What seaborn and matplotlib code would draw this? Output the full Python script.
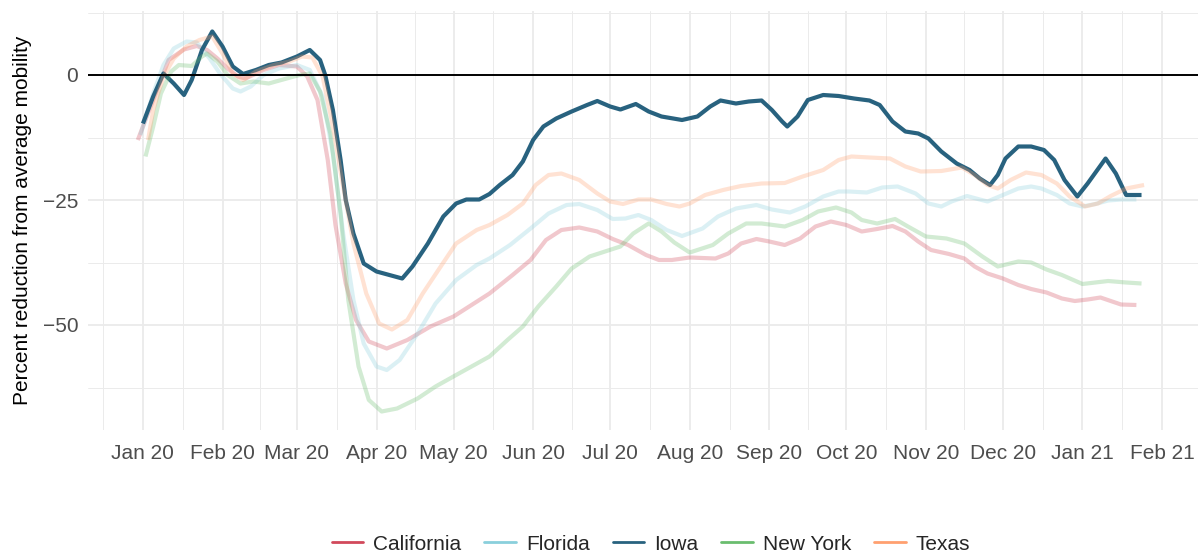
import pandas as pd
import numpy as np
import matplotlib
matplotlib.use("Agg")
import matplotlib.pyplot as plt
import matplotlib.dates as mdates
from matplotlib.lines import Line2D
import seaborn as sns

### DATA ###
# days since 2020-01-01 and % change from average mobility
ca_days = [-2, 3, 7, 10, 16, 21, 25, 29, 33, 37, 40, 47, 53, 60, 64, 68, 72, 75, 79, 83, 88, 95, 103, 112,
           121, 128, 135, 144, 151, 157, 163, 170, 177, 183, 189, 196, 201, 206, 213, 223, 228, 233, 239, 244,
           250, 256, 262, 268, 274, 280, 286, 292, 297, 302, 307, 314, 320, 324, 329, 335, 341, 346, 352, 358,
           363, 368, 373, 377, 381, 387]
ca_vals = [-13, -6.3, -1, 3, 5.1, 5.8, 5, 3.3, 1.3, -0.3, -0.7, 1, 2, 1.7, -0.3, -5, -17, -30, -41.7, -49,
           -53.3, -54.7, -53, -50.3, -48.3, -46, -43.7, -40, -37, -33, -31, -30.5, -31.3, -32.8, -34, -36, -37,
           -37, -36.5, -36.7, -35.7, -33.7, -32.8, -33.3, -34, -32.7, -30.3, -29.3, -30, -31.3, -30.8, -30.2,
           -31.3, -33.3, -35, -35.8, -36.7, -38.3, -39.7, -40.7, -42, -42.8, -43.5, -44.7, -45.2, -44.9, -44.5,
           -45.2, -45.9, -46]

fl_days = [-1, 4, 8, 12, 17, 21, 26, 30, 35, 38, 42, 47, 53, 60, 65, 70, 74, 78, 82, 86, 91, 95, 100, 107,
           114, 122, 130, 135, 143, 151, 158, 165, 170, 177, 183, 188, 193, 198, 204, 210, 218, 224, 231, 239,
           245, 252, 258, 265, 271, 275, 282, 288, 294, 301, 306, 311, 315, 321, 326, 329, 335, 341, 346, 350,
           356, 361, 366, 371, 376, 381, 387]
fl_vals = [-12, -3.7, 2, 5.3, 6.7, 6.5, 3.3, 0.3, -2.7, -3.3, -2.3, 0, 1.3, 2, 1, -4.3, -15.7, -31.7, -45,
           -53.7, -58.3, -59, -57, -51.7, -45.7, -41, -38, -36.7, -34, -30.7, -27.7, -26, -25.8, -27, -28.8,
           -28.7, -28, -29, -31, -32.2, -30.7, -28.3, -26.7, -26, -26.9, -27.5, -26.3, -24.3, -23.3, -23.3,
           -23.5, -22.5, -22.3, -23.7, -25.7, -26.3, -25.3, -24.2, -24.9, -25.3, -24, -22.7, -22.3, -22.7,
           -24, -25.7, -26.3, -25.8, -25.1, -24.9, -24.9]

ia_days = [0, 4, 8, 12, 16, 19, 23, 27, 31, 35, 39, 44, 49, 54, 60, 65, 69, 71, 74, 77, 79, 82, 86, 91, 96,
           101, 105, 111, 117, 122, 126, 131, 135, 139, 144, 148, 152, 156, 161, 167, 173, 177, 182, 186, 192,
           197, 202, 210, 216, 221, 225, 231, 236, 241, 245, 249, 251, 255, 259, 265, 271, 277, 283, 287, 292,
           297, 302, 306, 311, 317, 322, 326, 330, 333, 336, 341, 346, 351, 355, 359, 364, 368, 375, 379, 383,
           389]
ia_vals = [-9.7, -4.3, 0.3, -1.7, -4, -1, 5, 8.7, 5.7, 1.7, 0.2, 1, 2, 2.5, 3.7, 5, 3, 0, -7, -17, -25,
           -31.7, -37.7, -39.3, -40, -40.7, -38.3, -33.7, -28.3, -25.7, -24.9, -24.9, -23.8, -22, -20, -17.3,
           -13, -10.3, -8.7, -7.3, -6, -5.2, -6.3, -6.9, -5.8, -7.3, -8.3, -9, -8.3, -6.3, -5.1, -5.7, -5.3,
           -5.1, -7, -9.3, -10.3, -8.3, -5, -4, -4.2, -4.7, -5.1, -6, -9.3, -11.3, -11.7, -12.7, -15.3, -17.7,
           -19, -20.7, -22, -20, -16.7, -14.3, -14.3, -15, -17, -21, -24.3, -21.7, -16.7, -19.7, -24, -24]

ny_days = [1, 4, 7, 11, 14, 19, 23, 25, 29, 33, 38, 43, 49, 56, 61, 65, 69, 73, 77, 80, 84, 88, 93, 99, 107,
           114, 122, 128, 135, 142, 148, 154, 161, 167, 174, 180, 186, 191, 197, 202, 207, 213, 222, 228, 235,
           241, 250, 257, 263, 270, 276, 280, 286, 293, 298, 305, 313, 320, 327, 333, 341, 346, 352, 358, 366,
           371, 376, 383, 389]
ny_vals = [-16.3, -10.3, -3.7, 0.7, 2, 1.8, 3.7, 4.3, 2.7, 0, -1.7, -1.3, -1.7, -0.7, 0, 0.3, -3.3, -11.7,
           -27.7, -45, -58.3, -65, -67.3, -66.7, -64.7, -62.3, -60, -58.3, -56.3, -53, -50.3, -46.3, -42.3,
           -38.7, -36.3, -35.3, -34.3, -31.7, -29.7, -31.3, -33.5, -35.5, -34, -31.7, -29.7, -29.7, -30.3, -29,
           -27.3, -26.5, -27.5, -29, -29.7, -28.8, -30.3, -32.3, -32.7, -33.7, -36.3, -38.3, -37.3, -37.5,
           -38.9, -40, -41.8, -41.5, -41.2, -41.5, -41.7]

tx_days = [2, 4, 8, 12, 17, 22, 27, 31, 35, 39, 44, 51, 57, 62, 66, 70, 74, 78, 82, 87, 92, 97, 103, 109,
           116, 122, 130, 135, 142, 148, 153, 158, 163, 170, 177, 182, 187, 193, 198, 204, 209, 213, 219, 226,
           233, 241, 250, 257, 265, 271, 276, 283, 291, 297, 303, 311, 319, 324, 329, 333, 338, 344, 350, 356,
           361, 367, 372, 377, 383, 390]
tx_vals = [-13, -7, -0.3, 3.3, 5.7, 7, 7.7, 4.3, 0.3, -1, 0.7, 2, 2.7, 3.7, 3.5, -0.3, -10.3, -22.3, -33.7,
           -43.7, -49.7, -50.9, -49, -43.7, -38.3, -33.7, -31, -30, -28, -25.7, -22, -20, -19.7, -21, -23.7,
           -25.3, -25.8, -24.9, -24.9, -25.8, -26.3, -25.7, -24, -23, -22.2, -21.7, -21.6, -20.3, -19, -17,
           -16.3, -16.5, -16.7, -18.3, -19.3, -19.2, -18.5, -20, -22, -22.7, -21, -19.5, -20, -21.7, -24.3,
           -26.3, -25.7, -24.2, -22.7, -22]

states = ["California", "Florida", "Iowa", "New York", "Texas"]
state_colors = ["#D1495B", "#8ACFDC", "#28627F", "#6ABD6F", "#FFA070"]

### BUILD LONG DATAFRAME ###
start = pd.Timestamp("2020-01-01")
series = [ca_days, fl_days, ia_days, ny_days, tx_days]
values = [ca_vals, fl_vals, ia_vals, ny_vals, tx_vals]
frames = []
for state, d, v in zip(states, series, values):
    frames.append(pd.DataFrame({"date": start + pd.to_timedelta(d, unit="D"),
                                "state": state, "pct": v}))
df = pd.concat(frames, ignore_index=True)

### PLOT ###
sns.set_theme(style="white")
plt.rcParams["font.family"] = ["Liberation Sans", "DejaVu Sans"]

W, H = 1198, 556
fig = plt.figure(figsize=(W / 100, H / 100), dpi=100)
ax = fig.add_axes([88 / W, 1 - 430 / H, 1110 / W, 419 / H])

palette = dict(zip(states, state_colors))
sns.lineplot(data=df, x="date", y="pct", hue="state", hue_order=states, palette=palette,
             estimator=None, linewidth=3.0, legend=False, ax=ax)
for line, state in zip(ax.lines[:len(states)], states):
    line.set_solid_capstyle("butt")
    line.set_solid_joinstyle("round")
    if state != "Iowa":
        line.set_alpha(0.3)

ax.axhline(0, color="black", linewidth=1.4, zorder=3)

# axes limits (ggplot-like 5% expansion)
ax.set_xlim(start - pd.Timedelta(days=21.4), start + pd.Timedelta(days=410.3))
ax.set_ylim(-71.0, 12.8)

# ticks and grid
months = pd.date_range("2019-12-01", "2021-03-01", freq="MS")
mids = [months[i] + (months[i + 1] - months[i]) / 2 for i in range(len(months) - 1)]
major = pd.date_range("2020-01-01", "2021-02-01", freq="MS")
ax.set_xticks(major)
ax.set_xticks(mids, minor=True)
ax.xaxis.set_major_formatter(mdates.DateFormatter("%b %y"))
ax.set_yticks([-50, -25, 0])
ax.set_yticks([-62.5, -37.5, -12.5, 12.5], minor=True)
ax.grid(which="major", color="#ebebeb", linewidth=1.3)
ax.grid(which="minor", color="#ebebeb", linewidth=0.7)
ax.set_axisbelow(True)
ax.tick_params(which="both", length=0)
ax.tick_params(axis="both", labelsize=15, labelcolor="#4d4d4d")
ax.tick_params(axis="x", pad=10)
ax.tick_params(axis="y", pad=7)
for s in ax.spines.values():
    s.set_visible(False)

ax.set_xlabel("")
ax.set_ylabel("Percent reduction from average mobility", fontsize=15, color="black", labelpad=8)

# legend at the bottom
handles = [Line2D([], [], color=c, linewidth=2.0) for c in state_colors]
fig.legend(handles, states, loc="center", bbox_to_anchor=(651 / W, 1 - 544 / H), ncol=5,
           frameon=False, fontsize=15, handlelength=1.5, handletextpad=0.5, columnspacing=1.1)

fig.savefig("out.png", dpi=100)
